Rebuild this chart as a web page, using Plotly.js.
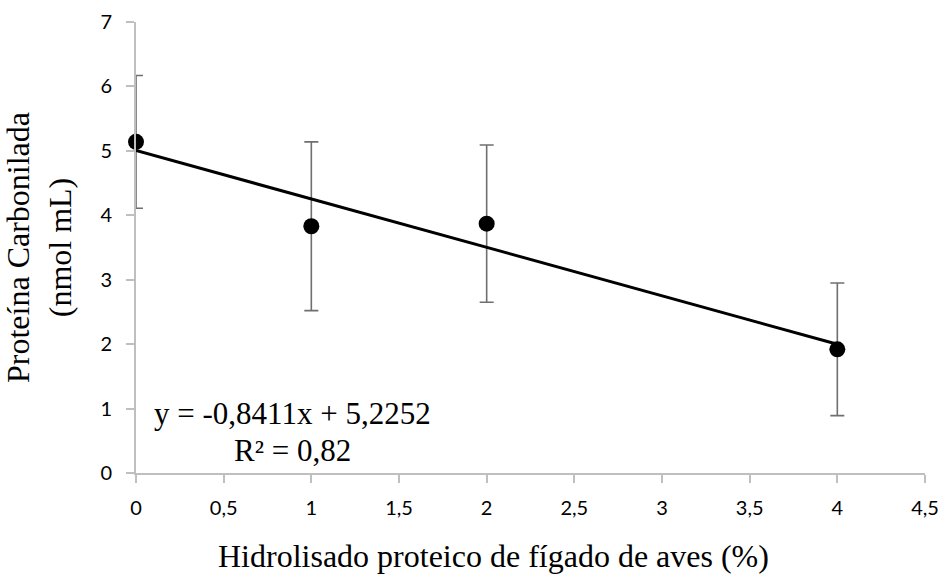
<!DOCTYPE html>
<html>
<head>
<meta charset="utf-8">
<script src="https://cdn.plot.ly/plotly-3.0.1.min.js"></script>
<style>html,body{margin:0;padding:0;background:#fff;}#chart{width:943px;height:574px;}</style>
</head>
<body>
<div id="chart"></div>
<script>
// Data
const hydrolysate = [0, 1, 2, 4];                 // % hidrolisado
const carbonylProtein = [5.14, 3.83, 3.87, 1.92]; // nmol mL
const errorSD = [1.03, 1.31, 1.22, 1.03];
const xTickVals = [0, 0.5, 1, 1.5, 2, 2.5, 3, 3.5, 4, 4.5];
const yTickVals = [0, 1, 2, 3, 4, 5, 6, 7];
const equationText = "y = -0,8411x + 5,2252";
const r2Text = "R² = 0,82";

// Least-squares linear trend computed from the data
const n = hydrolysate.length;
const mx = hydrolysate.reduce((a, b) => a + b, 0) / n;
const my = carbonylProtein.reduce((a, b) => a + b, 0) / n;
let sxy = 0, sxx = 0;
for (let i = 0; i < n; i++) {
  sxy += (hydrolysate[i] - mx) * (carbonylProtein[i] - my);
  sxx += (hydrolysate[i] - mx) ** 2;
}
const slope = sxy / sxx;
const intercept = my - slope * mx;
const trendX = [Math.min(...hydrolysate), Math.max(...hydrolysate)];
const trendY = trendX.map(x => intercept + slope * x);

const serif = "Liberation Serif, Times New Roman, serif";
const sans = "Lato, Open Sans, sans-serif";

const traces = [
  {
    x: hydrolysate, y: carbonylProtein, type: 'scatter', mode: 'markers',
    marker: {size: 16, color: 'rgba(0,0,0,0)'},
    error_y: {type: 'data', array: errorSD, visible: true, color: '#6f6f6f', thickness: 1.6, width: 7},
    cliponaxis: true, showlegend: false, hoverinfo: 'skip'
  },
  {
    x: trendX, y: trendY, type: 'scatter', mode: 'lines',
    line: {color: '#000', width: 3}, showlegend: false, cliponaxis: false
  },
  {
    x: hydrolysate, y: carbonylProtein, type: 'scatter', mode: 'markers',
    marker: {size: 16, color: '#000'}, cliponaxis: false, showlegend: false
  }
];

const layout = {
  width: 943, height: 574,
  margin: {l: 136, r: 18, t: 22, b: 101},
  paper_bgcolor: '#fff', plot_bgcolor: '#fff',
  separators: ',.',
  font: {family: sans, size: 20, color: '#000'},
  xaxis: {
    range: [0, 4.5], tickvals: xTickVals, showgrid: false, zeroline: false,
    showline: true, linecolor: '#bfbfbf', linewidth: 2,
    ticks: 'outside', ticklen: 8, tickcolor: '#bfbfbf', tickwidth: 2,
    ticklabelstandoff: 8,
    tickfont: {family: sans, size: 20, color: '#000'}
  },
  yaxis: {
    range: [0, 7], tickvals: yTickVals, showgrid: false, zeroline: false,
    showline: true, linecolor: '#bfbfbf', linewidth: 2,
    ticks: 'outside', ticklen: 8, tickcolor: '#bfbfbf', tickwidth: 2,
    ticklabelstandoff: 10,
    tickfont: {family: sans, size: 20, color: '#000'},
    title: {text: 'Proteína Carbonilada<br>(nmol mL)', font: {family: serif, size: 32, color: '#000'}, standoff: 20}
  },
  annotations: [
    {xref: 'paper', yref: 'paper', x: 0.4537, y: -0.183, xanchor: 'center', yanchor: 'middle',
     text: 'Hidrolisado proteico de fígado de aves (%)', showarrow: false,
     font: {family: serif, size: 32, color: '#000'}},
    {xref: 'x', yref: 'y', x: 0.89, y: 0.92, xanchor: 'center', yanchor: 'middle',
     text: equationText, showarrow: false, font: {family: serif, size: 31, color: '#000'}},
    {xref: 'x', yref: 'y', x: 0.89, y: 0.35, xanchor: 'center', yanchor: 'middle',
     text: r2Text, showarrow: false, font: {family: serif, size: 31, color: '#000'}}
  ]
};

Plotly.newPlot('chart', traces, layout, {displayModeBar: false, staticPlot: true});
</script>
</body>
</html>
